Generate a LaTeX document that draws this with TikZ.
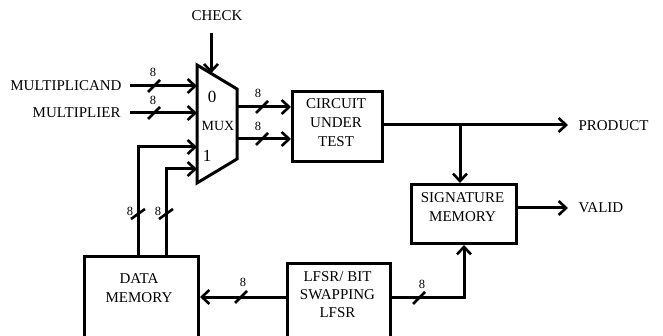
\documentclass[tikz,border=0pt]{standalone}
\usepackage{fontspec}
\setmainfont{Liberation Serif}
\usetikzlibrary{arrows.meta,calc}
\begin{document}
\begin{tikzpicture}[x=1pt,y=-1pt,line width=3pt,
  arr/.style={-{Straight Barb[length=7.5pt,width=14pt,line width=2.6pt]}},
  box/.style={draw,line width=3pt,inner sep=0pt,anchor=north west},
  lbl/.style={font=\fontsize{15}{19}\selectfont,align=center,inner sep=0pt},
  num/.style={font=\fontsize{12.5}{14}\selectfont,inner sep=0pt},
  big/.style={font=\fontsize{17}{19}\selectfont,inner sep=0pt},
  slash/.pic={\draw[line width=2.6pt] (-6,6) -- (6,-6);},
  vslash/.pic={\draw[line width=2.6pt] (-7,5) -- (7,-5);}]
\clip (0,0) rectangle (663,336);
\path[use as bounding box] (0,0) rectangle (663,336);

% MUX
\coordinate (mtl) at (197,65);
\coordinate (mtr) at (237,89);
\coordinate (mbr) at (237,159);
\coordinate (mbl) at (197,183);
\draw[line join=miter] (mtl) -- (mtr) -- (mbr) -- (mbl) -- cycle;
\node[big] (zero) at (212,97) {0};
\node[lbl,font=\fontsize{14}{16}\selectfont] (mux) at (218,126) {MUX};
\node[big] (one) at (207,156) {1};

% ports
\coordinate (in0a) at (197,86);
\coordinate (in0b) at (197,113);
\coordinate (in1a) at (197,147);
\coordinate (in1b) at (197,169);
\coordinate (o1) at (237,107);
\coordinate (o2) at (237,139);
\coordinate (chk) at ($(mtl)!0.35!(mtr)$);

% boxes
\node[box,minimum width=90pt,minimum height=70pt] (cut) at (291,90) {};
\node[lbl] (cuttxt) at (336,123) {CIRCUIT\\UNDER\\TEST};
\node[box,minimum width=105pt,minimum height=59pt] (sig) at (410,183) {};
\node[lbl] (sigtxt) at (462.5,207) {SIGNATURE\\MEMORY};
\node[box,minimum width=114pt,minimum height=110pt] (dm) at (83,255) {};
\node[lbl] (dmtxt) at (139,288) {DATA\\MEMORY};
\node[box,minimum width=103pt,minimum height=100pt] (lf) at (286,262) {};
\node[lbl,font=\fontsize{15}{18}\selectfont] (lftxt) at (337.5,295) {LFSR/ BIT\\SWAPPING\\LFSR};

% texts
\node[lbl] (check) at (217,16) {CHECK};
\node[lbl,anchor=east] (mcand) at (123,86) {MULTIPLICAND};
\node[lbl,anchor=east] (mplier) at (122,113) {MULTIPLIER};
\node[lbl,anchor=west] (prod) at (577,126) {PRODUCT};
\node[lbl,anchor=west] (valid) at (577,208) {VALID};

% connectors
\draw[arr] ($(check.south -| chk)+(0,10)$) -- (chk);
\draw[arr] ([xshift=7pt]mcand.east) -- (in0a);
\pic at (154,86) {slash};
\node[num] (n1) at (153,72) {8};
\draw[arr] ([xshift=8pt]mplier.east) -- (in0b);
\pic at (154,113) {slash};
\node[num] (n2) at (153,100) {8};

\coordinate (d1) at (138,255);
\coordinate (d2) at (166,255);
\draw[arr,line join=miter] (d1) |- (in1a);
\draw[arr,line join=miter] (d2) |- (in1b);
\pic at (138,214) {vslash};
\pic at (166,214) {vslash};
\node[num] (n3) at (130,211) {8};
\node[num] (n4) at (158,211) {8};

\draw[arr] (o1) -- (o1 -| cut.west);
\draw[arr] (o2) -- (o2 -| cut.west);
\pic at (262,107) {slash};
\pic at (262,139) {slash};
\node[num] (n5) at (258,93) {8};
\node[num] (n6) at (258,126) {8};

\coordinate (ce) at (381,125);
\coordinate (br) at (460,125);
\draw[arr] (ce) -- ([xshift=-9pt]prod.west |- ce);
\draw[arr] (br) -- (br |- sig.north);
\draw[arr] (sig.east |- valid.west) -- ([xshift=-9pt]valid.west);

\coordinate (l1) at (286,297);
\coordinate (l2) at (389,297);
\draw[arr] (l1) -- (l1 -| dm.east);
\pic at (241,297) {slash};
\node[num] (n7) at (243,282) {8};
\draw[arr,line join=miter] (l2) -| (sig.south);
\pic at (419,298) {slash};
\node[num] (n8) at (422,284) {8};
\end{tikzpicture}
\end{document}
